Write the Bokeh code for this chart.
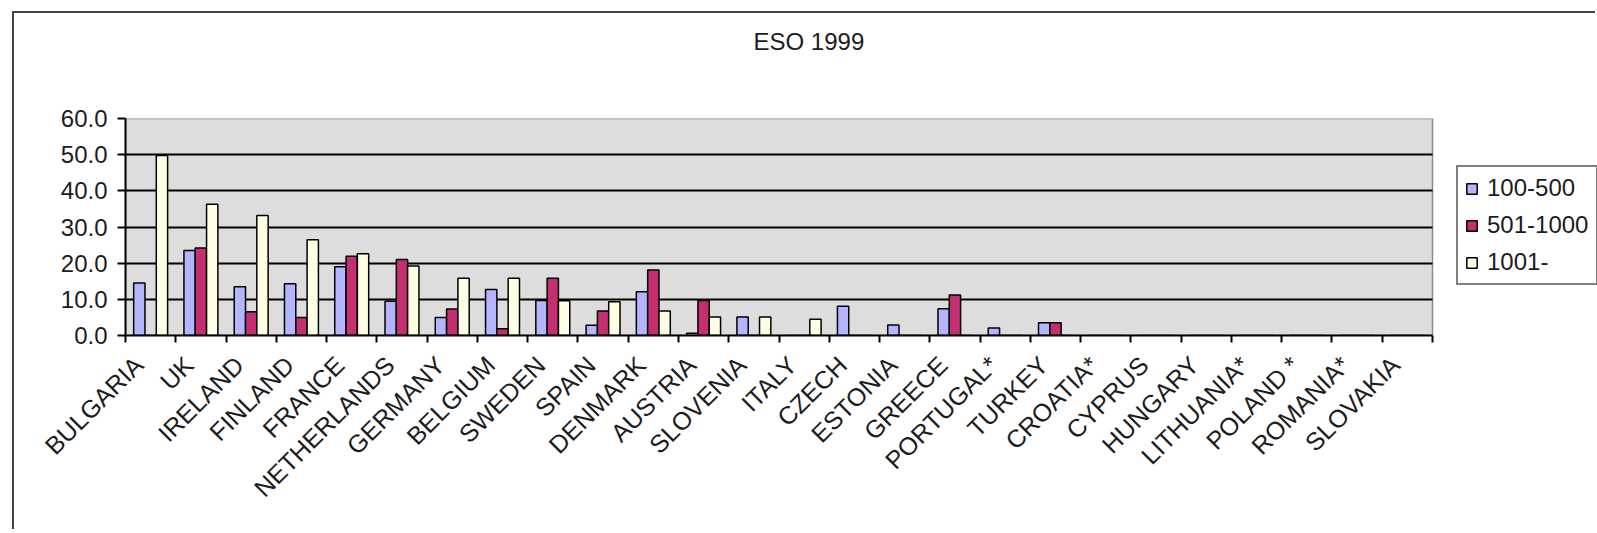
import numpy as np
from math import pi
from bokeh.plotting import figure
from bokeh.models import (FixedTicker, Legend, LegendItem, Title, Range1d,
                          NumeralTickFormatter, ColumnDataSource, CustomJSTickFormatter)
from bokeh.transform import dodge
from bokeh.embed import file_html
from bokeh.resources import INLINE

# ---------------- data ----------------
countries = ["BULGARIA", "UK", "IRELAND", "FINLAND", "FRANCE", "NETHERLANDS",
             "GERMANY", "BELGIUM", "SWEDEN", "SPAIN", "DENMARK", "AUSTRIA",
             "SLOVENIA", "ITALY", "CZECH", "ESTONIA", "GREECE", "PORTUGAL*",
             "TURKEY", "CROATIA*", "CYPRUS", "HUNGARY", "LITHUANIA*", "POLAND *",
             "ROMANIA*", "SLOVAKIA"]
s100_500 = [14.5, 23.5, 13.5, 14.3, 19.0, 9.5, 5.0, 12.7, 9.7, 2.8, 12.1, 0.6,
            5.1, 0.0, 8.1, 2.9, 7.4, 2.1, 3.5, 0, 0, 0, 0, 0, 0, 0]
s501_1000 = [0.0, 24.2, 6.6, 5.0, 21.9, 21.0, 7.3, 1.9, 15.8, 6.8, 18.1, 9.7,
             0.0, 0.0, 0.0, 0.0, 11.2, 0.0, 3.5, 0, 0, 0, 0, 0, 0, 0]
s1001 = [49.8, 36.3, 33.2, 26.5, 22.6, 19.2, 15.8, 15.8, 9.6, 9.3, 6.8, 5.1,
         5.1, 4.5, 0, 0, 0, 0, 0, 0, 0, 0, 0, 0, 0, 0]
series_names = ["100-500", "501-1000", "1001-"]
y_ticks = [0, 10, 20, 30, 40, 50, 60]
title_text = "ESO 1999"

# ---------------- styles / layout ----------------
FONT = "Liberation Sans"
TXT = "#1c1c1c"
colors = ["#B4B4FF", "#C4306F", "#FFFFE4"]
PLOT_W, PLOT_H = 1583, 518
B_LEFT, B_TOP, B_BOTTOM = 111, 105, 196
AREA_PX = 1307          # pixel width of the category area
LABEL_SHIFT = 0.24      # rotated labels end slightly left of the category centre

n = len(countries)
idx = list(range(n))
src = ColumnDataSource(dict(x=idx, a=s100_500, b=s501_1000, c=s1001))

x_end = -0.5 + (PLOT_W - B_LEFT) * n / AREA_PX
p = figure(width=PLOT_W, height=PLOT_H, title=None,
           x_range=Range1d(-0.5, x_end), y_range=Range1d(y_ticks[0], y_ticks[-1]),
           output_backend="svg", toolbar_location=None,
           min_border_left=B_LEFT, min_border_top=B_TOP,
           min_border_right=0, min_border_bottom=B_BOTTOM)
p.styles = {"margin-left": "12px", "margin-top": "11px",
            "border-left": "2px solid #444", "border-top": "2px solid #444"}

p.background_fill_color = "white"
p.border_fill_color = "white"
p.outline_line_color = None

# plot area (gray) limited to the category area
p.quad(left=-0.5, right=n - 0.5, bottom=y_ticks[0], top=y_ticks[-1],
       fill_color="#DDDDDD", line_color="#8a8a8a", line_width=1.5, level="image")

bw = 0.225
renderers = []
for col, off, colr in zip(["a", "b", "c"], [-bw, 0.0, bw], colors):
    r = p.vbar(x=dodge("x", off, range=p.x_range), top=col, width=bw,
               source=src, fill_color=colr, line_color="black", line_width=1.5)
    renderers.append(r)

# grid
p.xgrid.visible = False
p.ygrid.ticker = FixedTicker(ticks=[t for t in y_ticks if y_ticks[0] < t < y_ticks[-1]])
p.ygrid.grid_line_color = "black"
p.ygrid.grid_line_width = 2
p.ygrid.cross_bounds = (-0.5, n - 0.5)

# y axis
yax = p.yaxis[0]
yax.ticker = FixedTicker(ticks=y_ticks)
yax.formatter = NumeralTickFormatter(format="0.0")
yax.axis_line_color = "black"
yax.axis_line_width = 2
yax.major_tick_line_color = "black"
yax.major_tick_line_width = 2
yax.major_tick_out = 8
yax.major_tick_in = 0
yax.minor_tick_line_color = None
yax.major_label_standoff = 10
yax.major_label_text_font = FONT
yax.major_label_text_font_size = "24px"
yax.major_label_text_color = TXT

# x axis
xax = p.xaxis[0]
xax.bounds = (-0.5, n - 0.5)
xax.ticker = FixedTicker(ticks=[i - LABEL_SHIFT for i in idx],
                         minor_ticks=[i - 0.5 for i in range(n + 1)])
xax.formatter = CustomJSTickFormatter(args=dict(names=countries, shift=LABEL_SHIFT),
                                      code="return names[Math.round(tick + shift)]")
xax.axis_line_color = "black"
xax.axis_line_width = 2
xax.major_tick_out = 0
xax.major_tick_in = 0
xax.major_tick_line_color = None
xax.minor_tick_out = 7
xax.minor_tick_in = 0
xax.minor_tick_line_color = "black"
xax.minor_tick_line_width = 2
xax.major_label_orientation = pi / 4
xax.major_label_standoff = 18
xax.major_label_text_font = FONT
xax.major_label_text_font_size = "25px"
xax.major_label_text_color = TXT

# title: a thin spacer next to the frame, then the title text above it
spacer = Title(text=" ", text_font_size="1px", standoff=59)
p.add_layout(spacer, "above")
title = Title(text=title_text, align="left", offset=628, standoff=4,
              text_font=FONT, text_font_size="24px", text_font_style="normal",
              text_color=TXT)
p.add_layout(title, "above")

# legend (inside the frame, to the right of the category area)
legend = Legend(items=[LegendItem(label=nm, renderers=[r])
                       for nm, r in zip(series_names, renderers)],
                location=(1331, 50))
legend.border_line_color = "black"
legend.border_line_width = 2
legend.background_fill_color = "white"
legend.background_fill_alpha = 1
legend.label_text_font = FONT
legend.label_text_font_size = "24px"
legend.label_text_color = TXT
legend.glyph_width = 13
legend.glyph_height = 13
legend.label_standoff = 9
legend.label_height = 25
legend.label_width = 102
legend.spacing = 9
legend.padding = 7
legend.margin = 0
p.add_layout(legend)

open("out.html", "w").write(file_html(p, INLINE))
